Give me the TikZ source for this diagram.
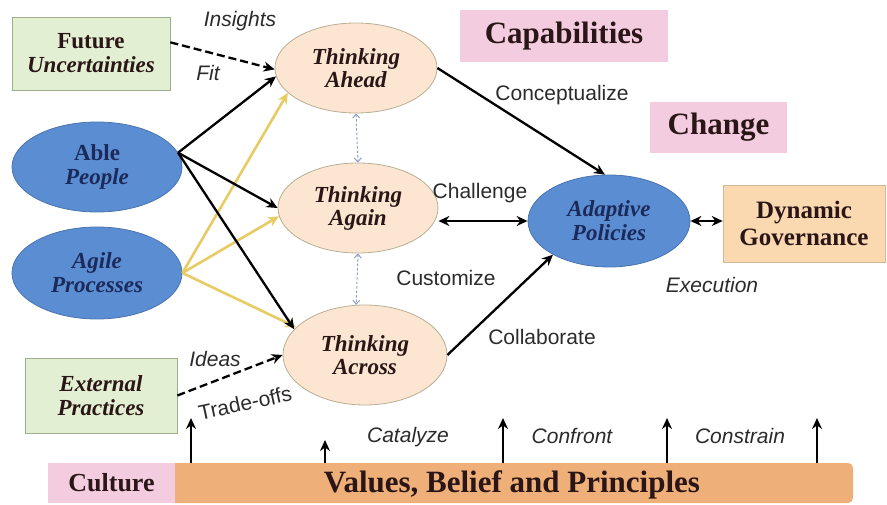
\documentclass[tikz,border=0pt]{standalone}
\usepackage{fontspec}
\setmainfont{Liberation Serif}
\setsansfont{Liberation Sans}
\usetikzlibrary{shapes.geometric,arrows.meta}
\definecolor{blueell}{HTML}{5B8DD3}
\definecolor{blueedge}{HTML}{4A74AE}
\definecolor{navy}{HTML}{1C2A5A}
\definecolor{peach}{HTML}{FCE6D2}
\definecolor{peachedge}{HTML}{B7AE94}
\definecolor{greenbox}{HTML}{E3EFD2}
\definecolor{greenedge}{HTML}{9DAE8A}
\definecolor{pinkbox}{HTML}{F3CCE0}
\definecolor{orangebar}{HTML}{EFAF78}
\definecolor{dynbox}{HTML}{FAD8B0}
\definecolor{goldline}{HTML}{E8CB62}
\definecolor{dotline}{HTML}{8FA2C2}
\definecolor{labelgray}{HTML}{2B2B2B}
\definecolor{darktext}{HTML}{2A1616}
\begin{document}
\begin{tikzpicture}[x=1pt,y=-1pt,
  blueellipse/.style={ellipse, draw=blueedge, line width=0.8pt, fill=blueell, text=navy,
    inner sep=0pt, align=center, font=\fontsize{23}{24}\selectfont\bfseries},
  peachellipse/.style={ellipse, draw=peachedge, line width=0.8pt, fill=peach, text=darktext,
    inner sep=0pt, align=center, font=\fontsize{23}{23}\selectfont\bfseries\itshape},
  greenbx/.style={rectangle, draw=greenedge, line width=0.8pt, fill=greenbox, text=darktext,
    inner sep=0pt, align=center, font=\fontsize{23}{24}\selectfont\bfseries},
  pinkbx/.style={rectangle, fill=pinkbox, text=darktext, inner sep=0pt, align=center},
  lbl/.style={font=\sffamily\fontsize{21}{22}\selectfont, text=labelgray, inner sep=0pt},
  ilbl/.style={lbl, font=\sffamily\itshape\fontsize{21}{22}\selectfont},
  blk/.style={-{Stealth[length=11pt,width=10pt]}, line width=2.3pt, black},
  gold/.style={-{Stealth[length=11pt,width=10pt]}, line width=2.6pt, goldline},
  dsh/.style={blk, dash pattern=on 8pt off 4pt},
  dotarr/.style={{Straight Barb[length=4pt,width=7pt]}-{Straight Barb[length=4pt,width=7pt]}, dotline, line width=1pt, dash pattern=on 2.5pt off 2pt},
  dbl/.style={{Stealth[length=11pt,width=10pt]}-{Stealth[length=11pt,width=10pt]}, line width=2.3pt, black},
  uparr/.style={-{Stealth[length=11pt,width=10pt]}, line width=2.3pt, black}
]
\useasboundingbox (0,0) rectangle (887,505);

% boxes
\node[greenbx, minimum width=158pt, minimum height=73pt] (fut) at (91,53.5)
  {Future\\\itshape Uncertainties};
\node[greenbx, minimum width=152pt, minimum height=75pt] (ext) at (101,395.5)
  {\itshape External\\\itshape Practices};
\node[pinkbx, minimum width=208pt, minimum height=52pt, font=\fontsize{31}{32}\selectfont\bfseries] (cap) at (564,36) {Capabilities};
\node[pinkbx, minimum width=137pt, minimum height=51pt, font=\fontsize{31}{32}\selectfont\bfseries] (chg) at (718.5,127.5) {Change};
\node[rectangle, fill=dynbox, draw=dynbox!85!black, line width=0.5pt, minimum width=162pt, minimum height=77pt, inner sep=0pt, align=center, text=darktext,
  font=\fontsize{25}{27}\selectfont\bfseries] (dyn) at (804,223.5) {Dynamic\\Governance};

% ellipses
\node[peachellipse, minimum width=162pt, minimum height=90pt] (ahead) at (356,68) {Thinking\\Ahead};
\node[peachellipse, minimum width=160pt, minimum height=90pt] (again) at (358,208) {Thinking\\Again};
\node[peachellipse, minimum width=164pt, minimum height=100pt] (across) at (365,355) {Thinking\\Across};
\node[blueellipse, minimum width=170pt, minimum height=90pt] (able) at (97,167) {Able\\\itshape People};
\node[blueellipse, minimum width=170pt, minimum height=92pt] (agile) at (97,273) {\itshape Agile\\\itshape Processes};
\node[blueellipse, minimum width=162pt, minimum height=92pt] (adapt) at (609,221) {\itshape Adaptive\\\itshape Policies};

% bottom bar
\node[rectangle, fill=orangebar, rounded corners=5pt, minimum width=683pt, minimum height=40pt, inner sep=0pt] (bar) at (511.5,483) {};
\node[pinkbx, minimum width=127pt, minimum height=40pt, font=\fontsize{26}{27}\selectfont\bfseries] (cult) at (111.5,483) {Culture};
\node[text=darktext, inner sep=0pt, font=\fontsize{31}{32}\selectfont\bfseries] (vals) at (512,485) {Values, Belief and Principles};

% connectors
\draw[gold] (agile.east) -- (ahead.200);
\draw[gold] (agile.east) -- (again.186);
\draw[gold] (agile.east) -- (across.158);
\draw[blk] (able.10) -- (ahead.186);
\draw[blk] (able.10) -- (again.180);
\draw[blk] (able.10) -- (across.160);
\draw[dsh] (fut.8) -- (ahead.181);
\draw[dsh] (ext.east) -- (across.west);
\draw[blk] (ahead.east) -- (adapt.95);
\draw[blk] (across.east) -- (adapt.211);
\draw[dbl] (adapt.west -| again.east) -- (adapt.west);
\draw[dbl] (adapt.east) -- (adapt.east -| dyn.west);
\draw[dotarr] (ahead.south) -- (again.north);
\draw[dotarr] (again.south) -- (across.100);

% up arrows
\coordinate (u1) at (191,418);
\coordinate (u2) at (325,440);
\coordinate (u3) at (503,418);
\coordinate (u4) at (667,418);
\coordinate (u5) at (817,418);
\foreach \u in {u1,u2,u3,u4,u5} \draw[uparr] (\u |- bar.north) -- (\u);

% labels
\node[ilbl] (tins) at (240,21) {Insights};
\node[ilbl] (tfit) at (208,73) {Fit};
\node[lbl] (tcon) at (562,95) {Conceptualize};
\node[lbl] (tcha) at (480,193) {Challenge};
\node[lbl] (tcus) at (446,278) {Customize};
\node[ilbl] (texe) at (712,285) {Execution};
\node[lbl] (tcol) at (542,337) {Collaborate};
\node[ilbl] (tide) at (215,359) {Ideas};
\node[lbl, rotate=12] (ttra) at (245,403) {Trade-offs};
\node[ilbl] (tcat) at (408,437) {Catalyze};
\node[ilbl] (tcnf) at (572,436) {Confront};
\node[ilbl] (tcns) at (740,436) {Constrain};
\end{tikzpicture}
\end{document}
